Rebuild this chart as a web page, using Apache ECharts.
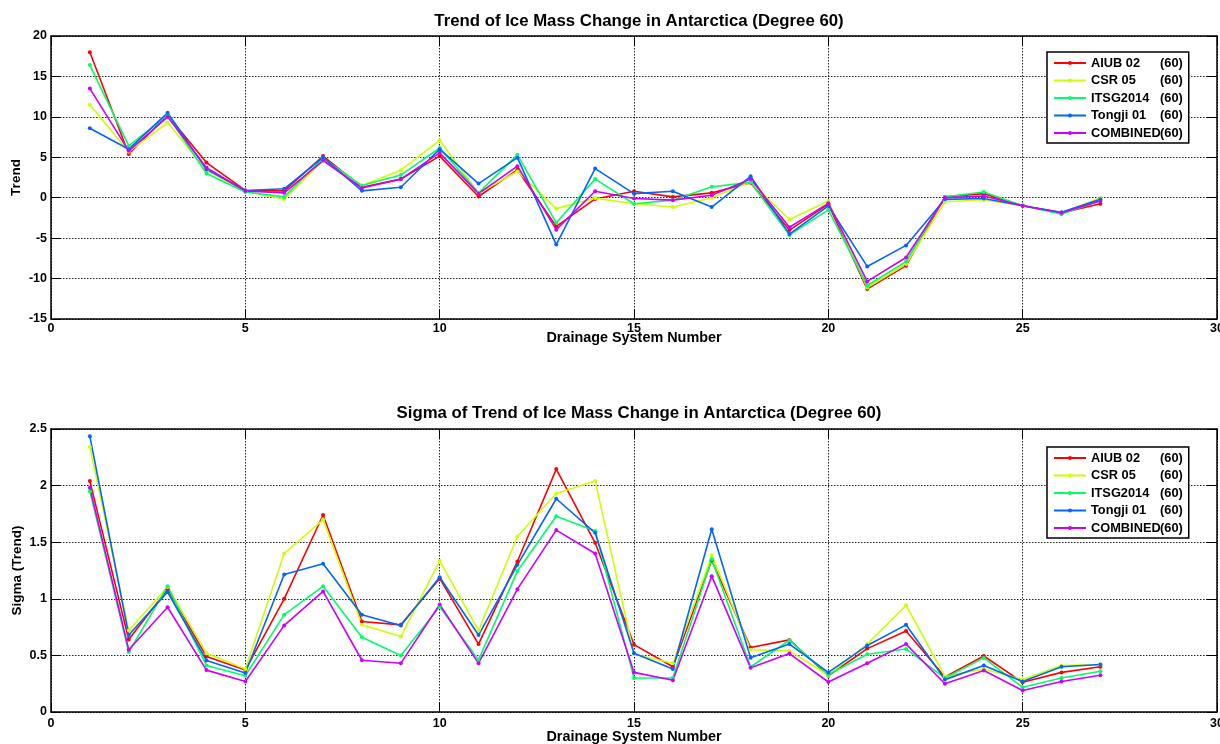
<!DOCTYPE html>
<html>
<head>
<meta charset="utf-8">
<script src="https://cdn.jsdelivr.net/npm/echarts@6/dist/echarts.min.js"></script>
<style>
html,body{margin:0;padding:0;background:#fff;}
#chart{width:1220px;height:744px;}
</style>
</head>
<body>
<div id="chart"></div>
<script>
// Drainage system numbers
const systems = [1,2,3,4,5,6,7,8,9,10,11,12,13,14,15,16,17,18,19,20,21,22,23,24,25,26,27];
const seriesNames = ['AIUB 02','CSR 05','ITSG2014','Tongji 01','COMBINED'];
const seriesColors = ['#ff0000','#ccff00','#00ff66','#0066ff','#cc00ff'];

// Trend values
const trendAIUB   = [18.0, 5.4, 10.2, 4.35, 0.9, 0.85, 5.15, 1.3, 2.3, 5.15, 0.15, 3.45, -3.55, -0.15, 0.8, 0.1, 0.6, 1.85, -4.0, -0.8, -11.3, -8.4, 0.1, 0.5, -1.0, -1.9, -0.75];
const trendCSR    = [11.5, 5.7, 9.3, 3.4, 0.8, -0.15, 4.55, 1.5, 3.4, 7.1, 0.55, 3.25, -1.35, -0.05, -0.75, -1.15, 0.0, 1.95, -2.7, -0.4, -11.1, -8.2, -0.5, -0.25, -1.0, -1.85, -0.05];
const trendITSG   = [16.4, 6.4, 10.2, 3.0, 0.7, 0.1, 4.9, 1.5, 2.8, 6.15, 0.6, 5.3, -3.1, 2.3, -0.75, -0.3, 1.35, 1.9, -4.6, -1.5, -10.85, -7.9, 0.1, 0.7, -1.0, -2.05, -0.35];
const trendTongji = [8.6, 6.0, 10.5, 3.5, 0.9, 1.1, 5.0, 0.85, 1.3, 6.0, 1.75, 4.95, -5.8, 3.6, 0.5, 0.8, -1.15, 2.65, -4.5, -1.0, -8.5, -5.9, -0.2, -0.1, -1.0, -1.8, -0.2];
const trendComb   = [13.5, 5.8, 10.0, 3.7, 0.85, 0.6, 4.6, 1.2, 2.3, 5.55, 0.5, 3.9, -3.95, 0.8, -0.1, -0.3, 0.3, 2.3, -3.65, -0.7, -10.35, -7.4, 0.0, 0.2, -1.0, -1.85, -0.4];

// Sigma of trend values
const sigmaAIUB   = [2.04, 0.64, 1.085, 0.49, 0.37, 1.0, 1.74, 0.80, 0.77, 1.18, 0.60, 1.33, 2.146, 1.495, 0.595, 0.40, 1.34, 0.57, 0.637, 0.32, 0.56, 0.716, 0.31, 0.495, 0.262, 0.35, 0.40];
const sigmaCSR    = [2.34, 0.72, 1.105, 0.52, 0.38, 1.40, 1.70, 0.77, 0.666, 1.335, 0.72, 1.55, 1.93, 2.04, 0.51, 0.43, 1.385, 0.55, 0.54, 0.325, 0.60, 0.943, 0.315, 0.38, 0.286, 0.41, 0.42];
const sigmaITSG   = [1.95, 0.53, 1.11, 0.41, 0.32, 0.86, 1.11, 0.66, 0.50, 0.93, 0.46, 1.245, 1.73, 1.60, 0.30, 0.30, 1.35, 0.40, 0.634, 0.33, 0.51, 0.557, 0.30, 0.478, 0.218, 0.30, 0.36];
const sigmaTongji = [2.435, 0.68, 1.06, 0.455, 0.345, 1.215, 1.31, 0.86, 0.765, 1.19, 0.68, 1.30, 1.884, 1.583, 0.52, 0.38, 1.615, 0.48, 0.60, 0.35, 0.587, 0.77, 0.286, 0.41, 0.27, 0.40, 0.42];
const sigmaComb   = [1.98, 0.55, 0.925, 0.37, 0.27, 0.765, 1.065, 0.457, 0.43, 0.95, 0.43, 1.085, 1.607, 1.40, 0.35, 0.28, 1.20, 0.39, 0.516, 0.265, 0.43, 0.60, 0.25, 0.366, 0.19, 0.27, 0.324];

const trendData = [trendAIUB, trendCSR, trendITSG, trendTongji, trendComb];
const sigmaData = [sigmaAIUB, sigmaCSR, sigmaITSG, sigmaTongji, sigmaComb];

const FONT = "'Liberation Sans', Arial, sans-serif";
const chart = echarts.init(document.getElementById('chart'), null, {renderer: 'canvas'});

function pairs(vals){ return systems.map((x,i)=>[x, vals[i]]); }

function mainX(gi, labelMargin, nameGap){
  return {
    gridIndex: gi, type: 'value', min: 0, max: 30, interval: 5, position: 'bottom',
    name: 'Drainage System Number', nameLocation: 'middle', nameGap: nameGap, nameMoveOverlap: false,
    nameTextStyle: {fontFamily: FONT, fontWeight: 'bold', fontSize: 14.4, color: '#000', verticalAlign: 'top'},
    axisLine: {show: true, onZero: false, lineStyle: {color: '#000', width: 1.5}},
    axisTick: {show: true, inside: true, length: 10, lineStyle: {color: '#000', width: 1}},
    axisLabel: {fontFamily: FONT, fontWeight: 'bold', fontSize: 12.5, color: '#000', margin: labelMargin},
    splitLine: {show: true, lineStyle: {color: '#222', type: [1.5, 1.5], width: 1}}
  };
}
function topX(gi){
  return {
    gridIndex: gi, type: 'value', min: 0, max: 30, interval: 5, position: 'top',
    axisLine: {show: true, onZero: false, lineStyle: {color: '#000', width: 1.5}},
    axisTick: {show: true, inside: true, length: 10, lineStyle: {color: '#000', width: 1}},
    axisLabel: {show: false}, splitLine: {show: false}
  };
}
function mainY(gi, min, max, interval, name, gap){
  return {
    gridIndex: gi, type: 'value', min: min, max: max, interval: interval, position: 'left',
    name: name, nameLocation: 'middle', nameGap: gap, nameRotate: 90, nameMoveOverlap: false,
    nameTextStyle: {fontFamily: FONT, fontWeight: 'bold', fontSize: 13.5, color: '#000'},
    axisLine: {show: true, onZero: false, lineStyle: {color: '#000', width: 1.5}},
    axisTick: {show: true, inside: true, length: 10, lineStyle: {color: '#000', width: 1}},
    axisLabel: {fontFamily: FONT, fontWeight: 'bold', fontSize: 12.5, color: '#000', margin: 4},
    splitLine: {show: true, lineStyle: {color: '#222', type: [1.5, 1.5], width: 1}}
  };
}
function rightY(gi, min, max, interval){
  return {
    gridIndex: gi, type: 'value', min: min, max: max, interval: interval, position: 'right',
    axisLine: {show: true, onZero: false, lineStyle: {color: '#000', width: 1.5}},
    axisTick: {show: true, inside: true, length: 10, lineStyle: {color: '#000', width: 1}},
    axisLabel: {show: false}, splitLine: {show: false}
  };
}

function legendCfg(top){
  return {
    orient: 'vertical', left: 1047, top: top,
    data: seriesNames,
    backgroundColor: '#fff', borderColor: '#000', borderWidth: 1.5,
    padding: [4, 6, 3, 6], itemGap: 3.5, itemWidth: 32, itemHeight: 5,
    formatter: function(n){ return '{a|' + n + '}{b|(60)}'; },
    textStyle: {
      fontFamily: FONT, fontWeight: 'bold', fontSize: 12.8, color: '#000', lineHeight: 14,
      rich: {
        a: {fontFamily: FONT, fontWeight: 'bold', fontSize: 12.8, color: '#000', width: 69},
        b: {fontFamily: FONT, fontWeight: 'bold', fontSize: 12.8, color: '#000'}
      }
    }
  };
}

const series = [];
seriesNames.forEach((n, i) => {
  series.push({
    name: n, type: 'line', xAxisIndex: 0, yAxisIndex: 0,
    data: pairs(trendData[i]), symbol: 'circle', symbolSize: 4, showSymbol: true,
    lineStyle: {color: seriesColors[i], width: 1.6}, itemStyle: {color: seriesColors[i]},
    animation: false
  });
});
seriesNames.forEach((n, i) => {
  series.push({
    name: n, type: 'line', xAxisIndex: 2, yAxisIndex: 2,
    data: pairs(sigmaData[i]), symbol: 'circle', symbolSize: 4, showSymbol: true,
    lineStyle: {color: seriesColors[i], width: 1.6}, itemStyle: {color: seriesColors[i]},
    animation: false
  });
});

const option = {
  backgroundColor: '#fff',
  animation: false,
  title: [
    {text: 'Trend of Ice Mass Change in Antarctica (Degree 60)', left: 634, top: 8, textAlign: 'center',
     textStyle: {fontFamily: FONT, fontWeight: 'bold', fontSize: 16.8, color: '#000'}},
    {text: 'Sigma of Trend of Ice Mass Change in Antarctica (Degree 60)', left: 634, top: 400, textAlign: 'center',
     textStyle: {fontFamily: FONT, fontWeight: 'bold', fontSize: 16.8, color: '#000'}}
  ],
  legend: [legendCfg(52), legendCfg(447)],
  grid: [
    {left: 51, top: 36, width: 1166, height: 283, containLabel: false, outerBoundsMode: 'none'},
    {left: 51, top: 429, width: 1166, height: 283, containLabel: false, outerBoundsMode: 'none'}
  ],
  xAxis: [mainX(0, 3, 12), topX(0), mainX(1, 5, 18), topX(1)],
  yAxis: [mainY(0, -15, 20, 5, 'Trend', 28), rightY(0, -15, 20, 5),
          mainY(1, 0, 2.5, 0.5, 'Sigma (Trend)', 27), rightY(1, 0, 2.5, 0.5)],
  series: series
};
chart.setOption(option);
</script>
</body>
</html>
